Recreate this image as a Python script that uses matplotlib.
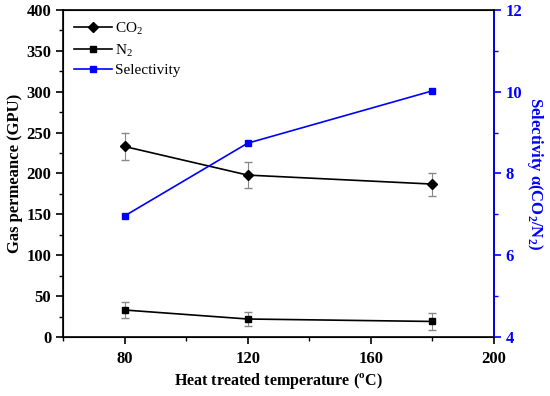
import matplotlib
matplotlib.use('Agg')
import matplotlib.pyplot as plt
from matplotlib.lines import Line2D
from matplotlib.ticker import MultipleLocator

plt.rcParams['font.family'] = ['Liberation Serif', 'DejaVu Serif']
plt.rcParams['mathtext.fontset'] = 'custom'
plt.rcParams['mathtext.rm'] = 'Liberation Serif'
plt.rcParams['mathtext.bf'] = 'Liberation Serif:bold'

# Data
temperature = [80, 120, 180]
co2_perm = [233, 198, 187]
co2_err = [16, 16, 14]
n2_perm = [33, 22, 19]
n2_err = [10, 9, 10]
selectivity = [6.96, 8.74, 10.02]

fig = plt.figure(figsize=(5.5, 3.96), dpi=100)
ax = fig.add_axes([0.1145, 0.149, 0.7835, 0.826])

ax.errorbar(temperature, co2_perm, yerr=co2_err, color='black', marker='D',
            markersize=5, lw=1.2, ecolor='#888888', elinewidth=0.8, capsize=3)
ax.errorbar(temperature, n2_perm, yerr=n2_err, color='black', marker='s',
            markersize=5, lw=1.2, ecolor='#888888', elinewidth=0.8, capsize=3)

ax2 = ax.twinx()
ax2.plot(temperature, selectivity, color='blue', marker='s', markersize=5, lw=1.2)

ax.set_xlim(60, 200)
ax.set_ylim(0, 400)
ax2.set_ylim(4, 12)

ax.set_xticks([80, 120, 160, 200])
ax.xaxis.set_minor_locator(MultipleLocator(20))
ax.yaxis.set_major_locator(MultipleLocator(50))
ax.yaxis.set_minor_locator(MultipleLocator(25))
ax2.yaxis.set_major_locator(MultipleLocator(2))
ax2.yaxis.set_minor_locator(MultipleLocator(1))

ax.tick_params(axis='both', which='major', direction='out', length=5, width=1.2,
               labelsize=12)
ax.tick_params(axis='both', which='minor', direction='out', length=3, width=1)
ax.tick_params(axis='x', which='major', pad=5)
ax2.tick_params(axis='y', which='major', direction='out', length=5, width=1.2,
                labelsize=12, colors='blue')
ax2.tick_params(axis='y', which='minor', direction='out', length=3, width=1,
                colors='blue')
for lab in ax.get_xticklabels() + ax.get_yticklabels() + ax2.get_yticklabels():
    lab.set_fontweight('bold')

for sp in ax.spines.values():
    sp.set_linewidth(1.2)
ax2.spines['right'].set_color('blue')
ax2.spines['right'].set_linewidth(1.2)

ax.set_xlabel(r'Heat treated temperature ($^{\mathbf{o}}$C)', fontsize=11.5,
              fontweight='bold', labelpad=3)
ax.set_ylabel('Gas permeance (GPU)', fontsize=12, fontweight='bold', labelpad=2)
ax2.set_ylabel(r'Selectivity α(CO$_\mathbf{2}$/N$_\mathbf{2}$)',
               fontsize=12, fontweight='bold', color='blue', rotation=270,
               labelpad=16)

handles = [
    Line2D([], [], color='black', marker='D', markersize=5, lw=1.2),
    Line2D([], [], color='black', marker='s', markersize=5, lw=1.2),
    Line2D([], [], color='blue', marker='s', markersize=5, lw=1.2),
]
labels = [r'CO$_2$', r'N$_2$', 'Selectivity']
ax.legend(handles, labels, loc='upper left', frameon=False, fontsize=11,
          handlelength=2.5, handletextpad=0.2, labelspacing=0.3,
          borderaxespad=0.3)

fig.savefig('out.png', dpi=100)
